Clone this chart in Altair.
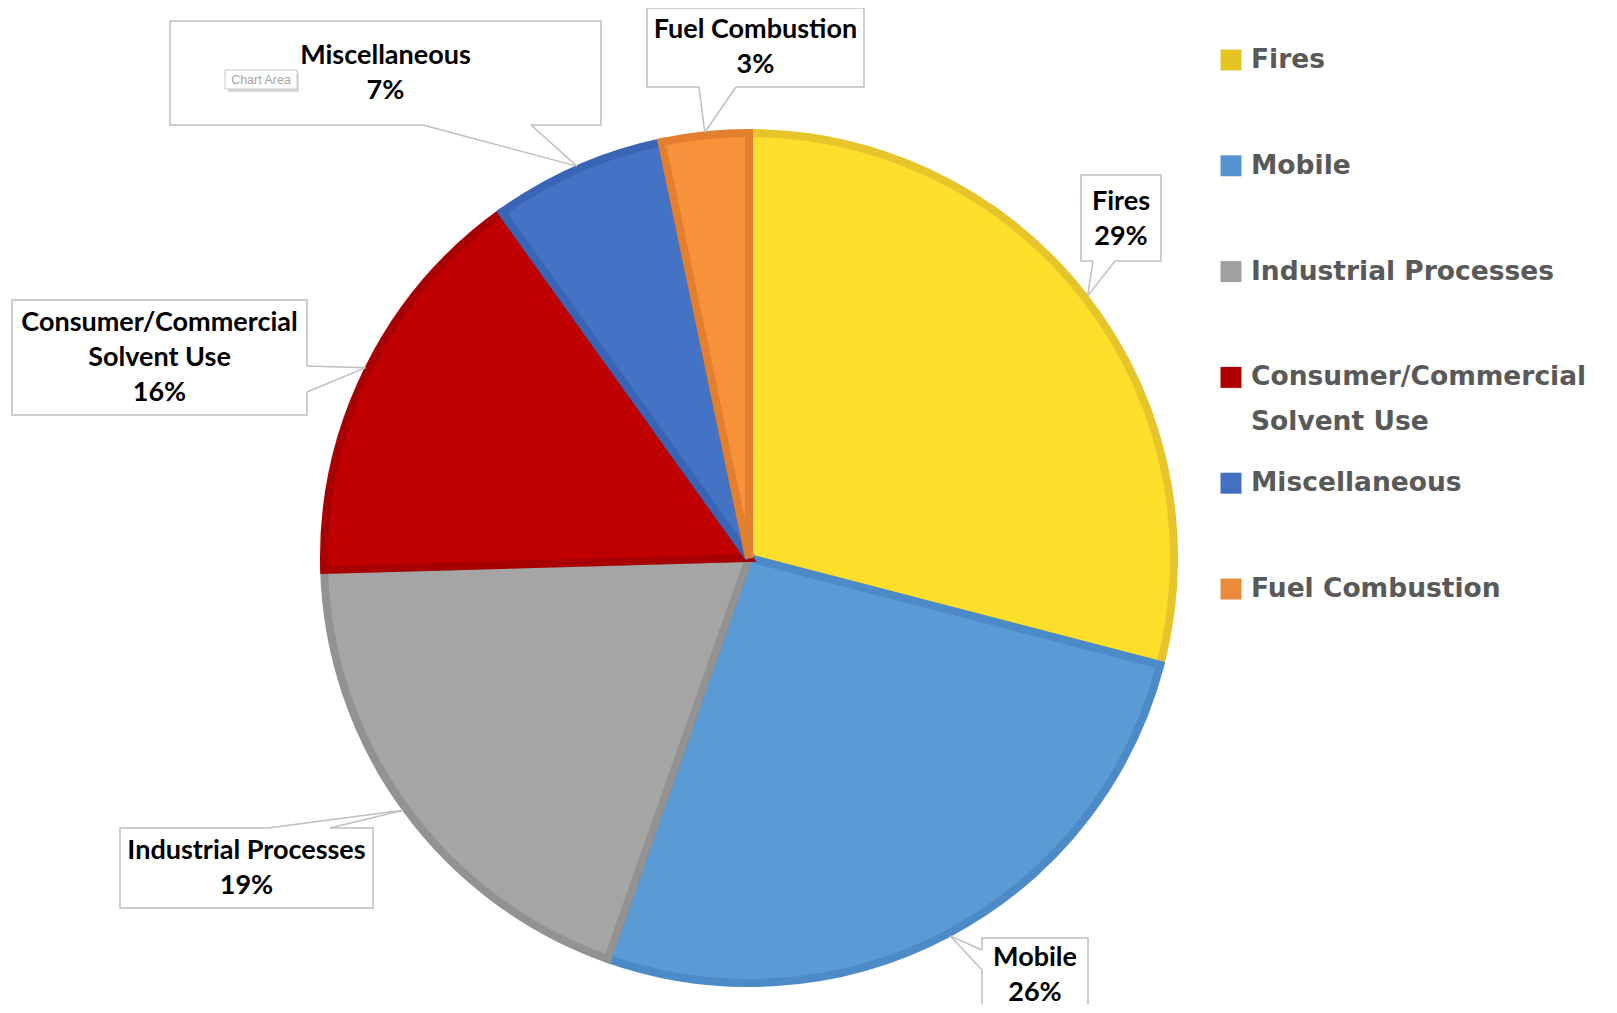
import math
import altair as alt
import pandas as pd

# ---------------- data ----------------
categories = ["Fires", "Mobile", "Industrial Processes",
              "Consumer/Commercial Solvent Use", "Miscellaneous", "Fuel Combustion"]
# slice shares (labels show them rounded)
values = [29.1, 26.4, 19.2, 15.6, 6.6, 3.3]
wrapped_names = ["Fires", "Mobile", "Industrial Processes",
                 "Consumer/Commercial\nSolvent Use", "Miscellaneous", "Fuel Combustion"]

# ---------------- styles ----------------
fill_colors = ["#FCDE2B", "#5B9BD5", "#A5A5A5", "#C00000", "#4472C4", "#F7923A"]
edge_colors = ["#E6C52A", "#4C8AC8", "#929292", "#A80000", "#3A64B4", "#E38030"]
legend_colors = ["#E3C526", "#5594D0", "#A0A0A0", "#B00000", "#4470C2", "#EB8A3A"]

# ---------------- layout (page pixels) ----------------
W, H = 1600, 996
OFF = 8  # page margin
CX, CY, R = 749, 558, 429

# callout boxes: (x0, y0, x1, y1), pointer base points, first text line y
callout_boxes = [
    (1081, 175, 1161, 261), (982, 938, 1088, 1030), (120, 828, 373, 908),
    (12, 300, 307, 415), (170, 21, 601, 125), (647, 8, 864, 87)]
callout_bases = [
    ((1093, 261), (1115, 261)), ((982, 950), (982, 970)), ((268, 828), (330, 828)),
    ((307, 366), (307, 392)), ((423, 125), (531, 125)), ((699, 87), (736, 87))]
callout_first_line_y = [202, 958, 851, 323, 56, 30]
callout_line_h = 35

legend_sq_x, legend_text_x = 1231, 1251
legend_y0, legend_step = 60, 105.8

# ---------------- tables ----------------
pie_df = pd.DataFrame({"category": categories, "value": values,
                       "order": list(range(len(categories)))})

total = sum(values)
cum = 0
rects, gaps, leaders, texts = [], [], [], []
for i, (cat, v) in enumerate(zip(categories, values)):
    mid = (cum + v / 2) / total * 2 * math.pi
    cum += v
    tx = CX + (R - 1) * math.sin(mid) - OFF
    ty = CY - (R - 1) * math.cos(mid) - OFF
    x0, y0, x1, y1 = callout_boxes[i]
    rects.append({"x": x0 - OFF, "y": y0 - OFF, "x2": x1 - OFF, "y2": y1 - OFF})
    (bx1, by1), (bx2, by2) = callout_bases[i]
    gaps.append({"x": bx1 - OFF, "y": by1 - OFF, "x2": bx2 - OFF, "y2": by2 - OFF})
    leaders.append({"x": bx1 - OFF, "y": by1 - OFF, "x2": tx, "y2": ty})
    leaders.append({"x": bx2 - OFF, "y": by2 - OFF, "x2": tx, "y2": ty})
    pct = int(math.floor(v / total * 100 + 0.5))
    texts.append({"x": (x0 + x1) / 2 - OFF, "y": callout_first_line_y[i] - OFF,
                  "label": f"{wrapped_names[i]}\n{pct}%"})

rect_df = pd.DataFrame(rects)
gap_df = pd.DataFrame(gaps)
leader_df = pd.DataFrame(leaders)
text_df = pd.DataFrame(texts)

leg_rows = []
for i, name in enumerate(wrapped_names):
    yc = legend_y0 + i * legend_step
    leg_rows.append({"sx": legend_sq_x - OFF, "sy": yc - OFF,
                     "tx": legend_text_x - OFF, "ty": yc - OFF,
                     "name": name, "lcolor": legend_colors[i]})
leg_df = pd.DataFrame(leg_rows)

chart_area_df = pd.DataFrame([{"x": 225 - OFF, "y": 70 - OFF, "x2": 297 - OFF, "y2": 89 - OFF,
                               "cx": 261 - OFF, "cy": 79.5 - OFF, "t": "Chart Area"}])
chart_area_shadow_df = pd.DataFrame([{"x": 228 - OFF, "y": 73 - OFF, "x2": 299 - OFF, "y2": 92 - OFF}])

xs = alt.Scale(domain=[0, W], nice=False, zero=False)
ys = alt.Scale(domain=[0, H], nice=False, zero=False, reverse=True)


def rect_enc(ch):
    return ch.encode(x=alt.X("x:Q", scale=xs, axis=None), x2="x2:Q",
                     y=alt.Y("y:Q", scale=ys, axis=None), y2="y2:Q")


pie = alt.Chart(pie_df).mark_arc(outerRadius=R - 4, strokeWidth=8, strokeJoin="miter").encode(
    theta=alt.Theta("value:Q", stack=True),
    order=alt.Order("order:Q"),
    color=alt.Color("category:N", scale=alt.Scale(domain=categories, range=fill_colors), legend=None),
    stroke=alt.Stroke("category:N", scale=alt.Scale(domain=categories, range=edge_colors), legend=None),
    x=alt.value(CX - OFF), y=alt.value(CY - OFF),
)

boxes = rect_enc(alt.Chart(rect_df).mark_rect(fill="white", stroke="#BFBFBF", strokeWidth=1.5))
gap = rect_enc(alt.Chart(gap_df).mark_rule(color="white", strokeWidth=3))
lead = rect_enc(alt.Chart(leader_df).mark_rule(color="#BFBFBF", strokeWidth=1.5))

labels = alt.Chart(text_df).mark_text(
    font="Lato", fontWeight="bold", fontSize=27, color="black",
    align="center", baseline="middle", lineBreak="\n", lineHeight=callout_line_h).encode(
    x=alt.X("x:Q", scale=xs, axis=None), y=alt.Y("y:Q", scale=ys, axis=None), text="label:N")

leg_sq = alt.Chart(leg_df).mark_square(size=440, opacity=1).encode(
    x=alt.X("sx:Q", scale=xs, axis=None), y=alt.Y("sy:Q", scale=ys, axis=None),
    fill=alt.Fill("lcolor:N", scale=None))

leg_txt = alt.Chart(leg_df).mark_text(
    font="DejaVu Sans", fontWeight="bold", fontSize=26.5, color="#595959",
    align="left", baseline="middle", lineBreak="\n", lineHeight=45).encode(
    x=alt.X("tx:Q", scale=xs, axis=None), y=alt.Y("ty:Q", scale=ys, axis=None), text="name:N")

ca_shadow = rect_enc(alt.Chart(chart_area_shadow_df).mark_rect(fill="#D9D9D9"))
ca_box = rect_enc(alt.Chart(chart_area_df).mark_rect(fill="white", stroke="#C8C8C8", strokeWidth=1))
ca_txt = alt.Chart(chart_area_df).mark_text(font="Liberation Sans Narrow, Liberation Sans", fontSize=12.5,
                                            color="#A6A6A6").encode(
    x=alt.X("cx:Q", scale=xs, axis=None), y=alt.Y("cy:Q", scale=ys, axis=None), text="t:N")

chart = alt.layer(pie, boxes, gap, lead, labels, ca_shadow, ca_box, ca_txt, leg_sq, leg_txt).properties(
    width=W, height=H, padding=0, autosize=alt.AutoSizeParams(type="none"),
    background="white"
).configure_view(stroke=None, clip=False)

chart.save("out.html", embed_options={"renderer": "svg", "actions": False})
